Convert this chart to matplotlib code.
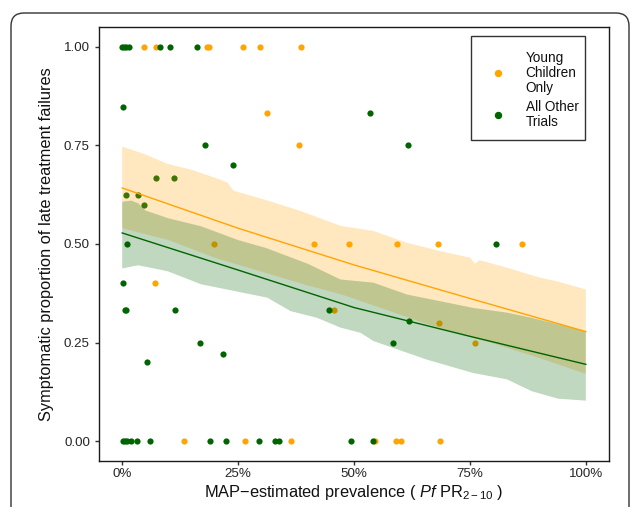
import matplotlib
matplotlib.use("Agg")
import matplotlib.pyplot as plt
from matplotlib.patches import FancyBboxPatch, Rectangle
from matplotlib.lines import Line2D

plt.rcParams['font.family'] = ['Liberation Sans', 'DejaVu Sans']
plt.rcParams['mathtext.fontset'] = 'custom'
plt.rcParams['mathtext.rm'] = 'Liberation Sans'
plt.rcParams['mathtext.it'] = 'Liberation Sans:italic'

# ---- data ----
young_x = [0.047, 0.072, 0.183, 0.187, 0.261, 0.297, 0.386,
           0.312, 0.382, 0.198, 0.414, 0.490, 0.593, 0.681, 0.862,
           0.070, 0.456, 0.684, 0.761,
           0.134, 0.264, 0.365, 0.546, 0.591, 0.602, 0.686]
young_y = [1.0, 1.0, 1.0, 1.0, 1.0, 1.0, 1.0,
           0.833, 0.75, 0.5, 0.5, 0.5, 0.5, 0.5, 0.5,
           0.4, 0.333, 0.3, 0.25,
           0.0, 0.0, 0.0, 0.0, 0.0, 0.0, 0.0]

other_x = [0.000, 0.004, 0.009, 0.014, 0.081, 0.104, 0.161,
           0.002, 0.535, 0.178, 0.617, 0.239,
           0.074, 0.111, 0.009, 0.035, 0.046,
           0.011, 0.807, 0.002, 0.006, 0.009, 0.113, 0.447, 0.618,
           0.167, 0.585, 0.218, 0.054,
           0.002, 0.007, 0.011, 0.020, 0.031, 0.061, 0.189, 0.224,
           0.295, 0.330, 0.339, 0.493, 0.540]
other_y = [1.0, 1.0, 1.0, 1.0, 1.0, 1.0, 1.0,
           0.846, 0.833, 0.75, 0.75, 0.7,
           0.667, 0.667, 0.625, 0.625, 0.6,
           0.5, 0.5, 0.4, 0.333, 0.333, 0.333, 0.333, 0.304,
           0.25, 0.25, 0.222, 0.2,
           0.0, 0.0, 0.0, 0.0, 0.0, 0.0, 0.0, 0.0,
           0.0, 0.0, 0.0, 0.0, 0.0]

# fitted lines
fit_x = [0.0, 0.25, 0.5, 0.75, 1.0]
young_fit = [0.642, 0.540, 0.447, 0.362, 0.278]
other_fit = [0.528, 0.434, 0.339, 0.266, 0.195]

# ribbons
young_up_x = [0.0, 0.05, 0.098, 0.15, 0.2, 0.227, 0.24, 0.3, 0.384, 0.471, 0.542,
              0.614, 0.686, 0.751, 0.761, 0.771, 0.83, 0.9, 0.936, 1.0]
young_up_y = [0.747, 0.727, 0.703, 0.688, 0.668, 0.656, 0.635, 0.615, 0.584, 0.546, 0.533,
              0.503, 0.482, 0.465, 0.450, 0.459, 0.440, 0.415, 0.406, 0.385]
young_lo_x = [0.0, 0.1, 0.2, 0.3, 0.4, 0.471, 0.578, 0.65, 0.72, 0.757, 0.8, 0.9, 1.0]
young_lo_y = [0.540, 0.510, 0.465, 0.430, 0.395, 0.373, 0.330, 0.300, 0.275, 0.262, 0.248, 0.211, 0.171]

other_up_x = [0.0, 0.02, 0.035, 0.05, 0.1, 0.17, 0.25, 0.31, 0.4, 0.471, 0.542,
              0.614, 0.686, 0.757, 0.83, 0.883, 1.0]
other_up_y = [0.607, 0.610, 0.603, 0.585, 0.565, 0.545, 0.510, 0.490, 0.450, 0.410, 0.402,
              0.372, 0.355, 0.338, 0.326, 0.313, 0.279]
other_lo_x = [0.0, 0.025, 0.035, 0.098, 0.17, 0.313, 0.363, 0.42, 0.471, 0.514, 0.542,
              0.657, 0.757, 0.83, 0.883, 0.94, 1.0]
other_lo_y = [0.438, 0.444, 0.446, 0.431, 0.398, 0.364, 0.330, 0.313, 0.288, 0.275, 0.254,
              0.207, 0.173, 0.157, 0.127, 0.108, 0.103]

x_ticks = [0, 0.25, 0.5, 0.75, 1.0]
x_tick_labels = ['0%', '25%', '50%', '75%', '100%']
y_ticks = [0, 0.25, 0.5, 0.75, 1.0]
y_tick_labels = ['0.00', '0.25', '0.50', '0.75', '1.00']
legend_labels = ["Young\nChildren\nOnly", "All Other\nTrials"]

ORANGE = '#FFA500'
GREEN = '#006400'

W, H = 630, 507
fig = plt.figure(figsize=(6.3, 5.07), dpi=100)
ax = fig.add_axes([99/W, 1-461/H, 510/W, 434/H])

ax.scatter(young_x, young_y, s=20, color=ORANGE, linewidths=0, zorder=1)
ax.scatter(other_x, other_y, s=20, color=GREEN, linewidths=0, zorder=1)


def fill(xu, yu, xl, yl, color):
    xs = list(xu) + list(xl)[::-1]
    ys = list(yu) + list(yl)[::-1]
    ax.fill(xs, ys, color=color, alpha=0.25, linewidth=0, zorder=2)


fill(young_up_x, young_up_y, young_lo_x, young_lo_y, ORANGE)
fill(other_up_x, other_up_y, other_lo_x, other_lo_y, GREEN)

ax.plot(fit_x, young_fit, color=ORANGE, lw=1.0, zorder=3)
ax.plot(fit_x, other_fit, color=GREEN, lw=1.0, zorder=3)

ax.set_xlim(-0.05, 1.05)
ax.set_ylim(-0.05, 1.05)
ax.set_xticks(x_ticks)
ax.set_xticklabels(x_tick_labels)
ax.set_yticks(y_ticks)
ax.set_yticklabels(y_tick_labels)
ax.tick_params(axis='both', length=3, width=1, color='#333333', labelsize=9.6, labelcolor='#262626')
ax.tick_params(axis='x', pad=2)
ax.tick_params(axis='y', pad=3.5)
for sp in ax.spines.values():
    sp.set_linewidth(1.0)
    sp.set_color('#1a1a1a')

ax.set_xlabel(r"MAP$-$estimated prevalence ( $\mathit{Pf}\ \mathrm{PR}_{2-10}$ )",
              fontsize=11.8, labelpad=2, color='#111111')
ax.set_ylabel("Symptomatic proportion of late treatment failures", fontsize=11.8,
              labelpad=7, color='#111111')

# legend (frameless) + separate frame box
fs = 9.8
fs_px = fs * 100 / 72
handles = [Line2D([], [], marker='o', ls='', color=ORANGE, markersize=4.3),
           Line2D([], [], marker='o', ls='', color=GREEN, markersize=4.3)]
hl = 1.0
marker_cx = 498
text_x = 525.7
htp = (text_x - marker_cx - hl * fs_px / 2) / fs_px
leg = fig.legend(handles, legend_labels,
                 loc='upper left',
                 bbox_to_anchor=((marker_cx - hl * fs_px / 2) / W, 1 - 50.5 / H),
                 fontsize=fs, frameon=False, borderpad=0, labelspacing=0.4,
                 handletextpad=htp, handlelength=hl, borderaxespad=0)
for t in leg.get_texts():
    t.set_color('#111111')
    t.set_linespacing(1.1)
fig.patches.append(Rectangle((471/W, 1-140/H), 114/W, 104/H, transform=fig.transFigure,
                             fill=True, facecolor='none', edgecolor='#333333', linewidth=1.0))

# outer rounded frame
frame = FancyBboxPatch((0.11, -0.5), 6.18, 5.07 - 0.13 + 0.5,
                       boxstyle="round,pad=0,rounding_size=0.13",
                       transform=fig.dpi_scale_trans, fill=False,
                       edgecolor='#333333', linewidth=1.0)
fig.patches.append(frame)

fig.savefig("out.png", dpi=100)
